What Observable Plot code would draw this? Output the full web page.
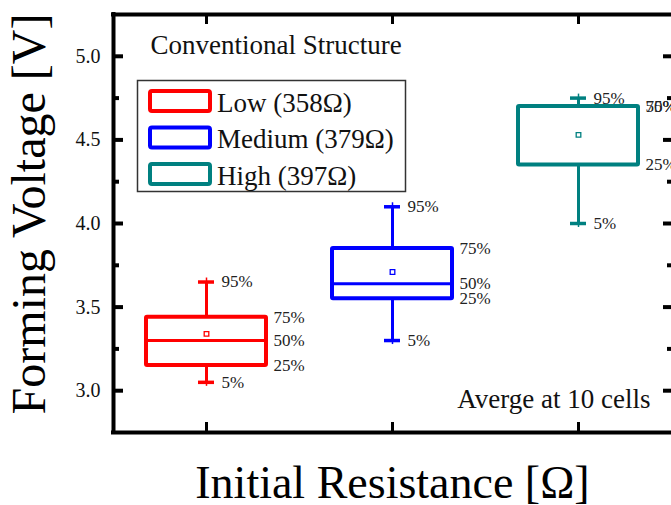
<!DOCTYPE html>
<html>
<head>
<meta charset="utf-8">
<script src="https://cdn.jsdelivr.net/npm/d3@7"></script>
<script src="https://cdn.jsdelivr.net/npm/@observablehq/plot@0.6"></script>
<style>
  html, body { margin: 0; padding: 0; background: #fff; }
  #chart { width: 671px; height: 505px; }
  #chart svg, #chart svg text { font-family: "Liberation Serif", "Times New Roman", serif; }
</style>
</head>
<body>
<div id="chart"></div>
<script>
// ---- data ----
const groups = ["Low (358Ω)", "Medium (379Ω)", "High (397Ω)"];
const colors = ["#ff0000", "#0000ff", "#008080"];
const p5   = [3.05, 3.30, 4.00];
const p25  = [3.15, 3.55, 4.35];
const p50  = [3.30, 3.64, 4.70];
const p75  = [3.44, 3.85, 4.70];
const p95  = [3.65, 4.10, 4.75];
const means = [3.34, 3.71, 4.53];
const yMajorTicks = [3.0, 3.5, 4.0, 4.5, 5.0];
const yMinorTicks = [3.25, 3.75, 4.25, 4.75];
const xTicks = [1, 2, 3];
const titleText = "Conventional Structure";
const noteText = "Averge at 10 cells";
const xTitle = "Initial Resistance [Ω]";
const yTitle = "Forming Voltage [V]";

// ---- layout ----
const W = 671, H = 505;
const mL = 113, mR = 0, mT = 14, mB = 73;
const xDom = [0.5, 3.5], yDom = [2.75, 5.25];
const pxX = (W - mL - mR) / (xDom[1] - xDom[0]);   // px per x unit
const pxY = (H - mT - mB) / (yDom[1] - yDom[0]);   // px per y unit
const boxHalf = 60 / pxX;
const capHalf = 8 / pxX;
const serif = "Liberation Serif";

const rows = groups.map((g, i) => ({
  g, i: i + 1, color: colors[i],
  p5: p5[i], p25: p25[i], p50: p50[i], p75: p75[i], p95: p95[i], mean: means[i]
}));

const pctLabels = [];
rows.forEach(r => {
  pctLabels.push({x: r.i + capHalf, y: r.p95, t: "95%"});
  pctLabels.push({x: r.i + capHalf, y: r.p5, t: "5%"});
  pctLabels.push({x: r.i + boxHalf, y: r.p75, t: "75%"});
  pctLabels.push({x: r.i + boxHalf, y: r.p50, t: "50%"});
  pctLabels.push({x: r.i + boxHalf, y: r.p25, t: "25%"});
});

const tk = (px) => px / pxX;   // tick length in x units
const tkY = (px) => px / pxY;  // tick length in y units

const plot = Plot.plot({
  width: W, height: H,
  marginLeft: mL, marginRight: mR, marginTop: mT, marginBottom: mB,
  x: {domain: xDom, axis: null},
  y: {domain: yDom, axis: null},
  style: {background: "#fff", color: "#000"},
  marks: [
    // frame (left, bottom, top)
    Plot.ruleX([xDom[0]], {y1: yDom[0], y2: yDom[1], stroke: "#000", strokeWidth: 4, strokeLinecap: "square"}),
    Plot.ruleY([yDom[0], yDom[1]], {x1: xDom[0], x2: xDom[1] + 0.05, stroke: "#000", strokeWidth: 4, strokeLinecap: "square"}),
    // y ticks left & right (inward)
    Plot.ruleY(yMajorTicks, {x1: xDom[0], x2: xDom[0] + tk(10), stroke: "#000", strokeWidth: 4}),
    Plot.ruleY(yMinorTicks, {x1: xDom[0], x2: xDom[0] + tk(6), stroke: "#000", strokeWidth: 4}),
    Plot.ruleY(yMajorTicks, {x1: xDom[1], x2: xDom[1] - tk(8), stroke: "#000", strokeWidth: 4}),
    Plot.ruleY(yMinorTicks, {x1: xDom[1], x2: xDom[1] - tk(4), stroke: "#000", strokeWidth: 4}),
    // x ticks bottom & top (inward)
    Plot.ruleX(xTicks, {y1: yDom[0], y2: yDom[0] + tkY(10), stroke: "#000", strokeWidth: 3}),
    Plot.ruleX(xTicks, {y1: yDom[1], y2: yDom[1] - tkY(10), stroke: "#000", strokeWidth: 3}),
    // y tick labels
    Plot.text(yMajorTicks, {x: xDom[0], y: d => d, text: d => d.toFixed(1), textAnchor: "end", lineAnchor: "middle", dx: -13, fontSize: 20, fontFamily: serif, fill: "#111"}),
    // whiskers
    Plot.ruleX(rows, {x: "i", y1: "p75", y2: "p95", stroke: "color", strokeWidth: 3}),
    Plot.ruleX(rows, {x: "i", y1: "p5", y2: "p25", stroke: "color", strokeWidth: 3}),
    // caps
    Plot.ruleY(rows, {y: "p95", x1: d => d.i - capHalf, x2: d => d.i + capHalf, stroke: "color", strokeWidth: 3.5}),
    Plot.ruleY(rows, {y: "p5", x1: d => d.i - capHalf, x2: d => d.i + capHalf, stroke: "color", strokeWidth: 3.5}),
    Plot.ruleX(rows, {x: "i", y1: "p95", y2: d => d.p95 + tkY(4), stroke: "color", strokeWidth: 1.5}),
    Plot.ruleX(rows, {x: "i", y1: "p5", y2: d => d.p5 - tkY(4), stroke: "color", strokeWidth: 1.5}),
    // boxes
    Plot.rect(rows, {x1: d => d.i - boxHalf, x2: d => d.i + boxHalf, y1: "p25", y2: "p75", stroke: "color", strokeWidth: 4, fill: "none", rx: 1}),
    // median
    Plot.ruleY(rows, {y: "p50", x1: d => d.i - boxHalf, x2: d => d.i + boxHalf, stroke: "color", strokeWidth: 3}),
    // mean
    Plot.dot(rows, {x: "i", y: "mean", symbol: "square", r: 2.6, stroke: "color", fill: "#fff", strokeWidth: 1.3}),
    // percent labels
    Plot.text(pctLabels, {x: "x", y: "y", text: "t", dx: 7, textAnchor: "start", lineAnchor: "middle", fontSize: 17, fontFamily: serif, fill: "#222"}),
    // title & note
    Plot.text([titleText], {frameAnchor: "top-left", dx: 37, dy: 31, textAnchor: "start", lineAnchor: "middle", fontSize: 27, fontFamily: serif, fill: "#111"}),
    Plot.text([noteText], {frameAnchor: "bottom-right", dx: -21, dy: -33.6, textAnchor: "end", lineAnchor: "middle", fontSize: 27, fontFamily: serif, fill: "#111"}),
    // x axis title
    Plot.text([xTitle], {frameAnchor: "bottom", dy: 51, textAnchor: "middle", lineAnchor: "middle", fontSize: 46, fontFamily: serif, fill: "#000"})
  ]
});

const svg = d3.select(plot);

// y axis title (rotated)
svg.append("text")
  .attr("transform", "translate(45,214) rotate(-90)")
  .attr("text-anchor", "middle")
  .attr("font-family", serif)
  .attr("font-size", 48)
  .attr("fill", "#000")
  .text(yTitle);

// legend inside the plot area
const lg = svg.append("g").attr("font-family", serif).attr("text-anchor", "start");
lg.append("rect").attr("x", 137.5).attr("y", 80.5).attr("width", 268).attr("height", 111)
  .attr("fill", "#fff").attr("stroke", "#333").attr("stroke-width", 1.5);
groups.forEach((g, i) => {
  const cy = 101 + i * 36.5;
  lg.append("rect").attr("x", 150).attr("y", cy - 10).attr("width", 60).attr("height", 20).attr("rx", 2)
    .attr("fill", "none").attr("stroke", colors[i]).attr("stroke-width", 4);
  lg.append("text").attr("x", 217).attr("y", cy + 10.5).attr("font-size", 27).attr("fill", "#111")
    .attr("text-anchor", "start").text(g);
});

document.getElementById("chart").appendChild(plot);
</script>
</body>
</html>
